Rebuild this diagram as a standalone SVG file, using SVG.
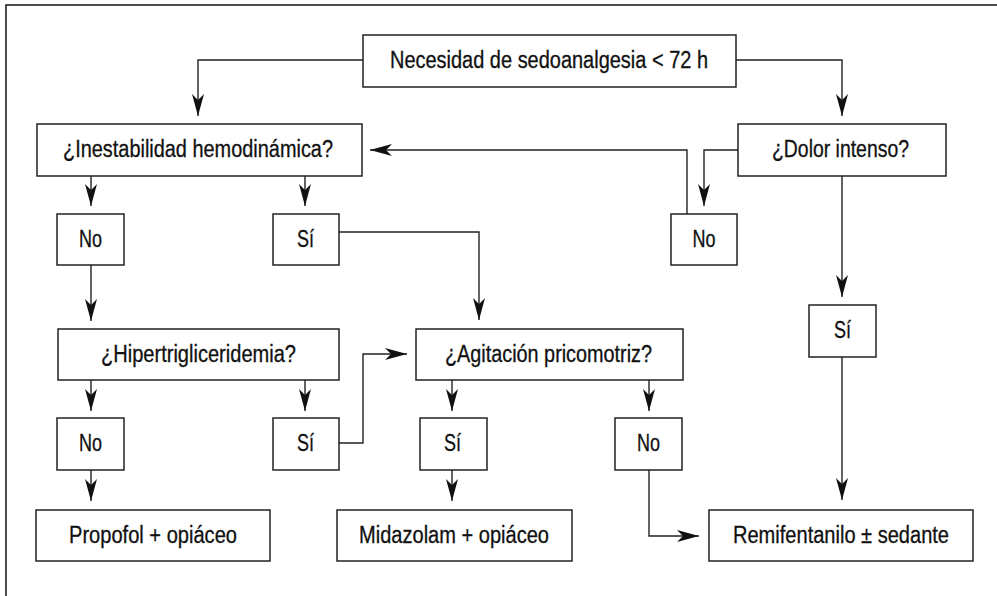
<svg xmlns="http://www.w3.org/2000/svg" width="997" height="596" viewBox="0 0 997 596">
<style>
.frame{fill:none;stroke:#222;stroke-width:1.6}
.box rect{fill:#fff;stroke:#222;stroke-width:1.5}
.box text{font-family:"Liberation Sans",Arial,sans-serif;font-size:23px;fill:#111;stroke:#111;stroke-width:0.3;text-anchor:middle}
.conn path{fill:none;stroke:#222;stroke-width:1.4;marker-end:url(#arr)}
</style>
<defs>
<marker id="arr" markerUnits="userSpaceOnUse" viewBox="0 0 22 12" markerWidth="22" markerHeight="12" refX="22" refY="6" orient="auto">
<path d="M0,0 L22,6 L0,12 L6,6 z" fill="#111"/>
</marker>
</defs>
<rect width="997" height="596" fill="#fff"/>
<rect class="frame" x="6" y="5" width="1000" height="600"/>
<g class="conn">
<path d="M363,60 H198 V116"/>
<path d="M736,60 H842 V116"/>
<path d="M687,214 V150 H370"/>
<path d="M738,150 H704 V206"/>
<path d="M842,176 V297"/>
<path d="M842,357 V500"/>
<path d="M91,176 V206"/>
<path d="M305,176 V206"/>
<path d="M339,232 H479 V320"/>
<path d="M91,265 V321"/>
<path d="M91,380 V411"/>
<path d="M305,380 V411"/>
<path d="M339,443 H363 V354 H407"/>
<path d="M452,380 V411"/>
<path d="M649,380 V411"/>
<path d="M91,470 V501"/>
<path d="M452,470 V501"/>
<path d="M649,470 V536 H699"/>
</g>
<g id="n-necesidad" class="box"><rect x="363" y="35" width="373" height="52"/><text x="549" y="67.5" textLength="318" lengthAdjust="spacingAndGlyphs">Necesidad de sedoanalgesia &lt; 72 h</text></g>
<g id="n-inestabilidad" class="box"><rect x="37" y="124" width="325" height="52"/><text x="198" y="157" textLength="270" lengthAdjust="spacingAndGlyphs">¿Inestabilidad hemodinámica?</text></g>
<g id="n-dolor" class="box"><rect x="738" y="124" width="208" height="52"/><text x="840.5" y="157" textLength="137" lengthAdjust="spacingAndGlyphs">¿Dolor intenso?</text></g>
<g id="n-no1" class="box"><rect x="57" y="214" width="67" height="51"/><text x="90.5" y="246.5" textLength="23" lengthAdjust="spacingAndGlyphs">No</text></g>
<g id="n-si1" class="box"><rect x="273" y="214" width="66" height="51"/><text x="305.5" y="246.5" textLength="17" lengthAdjust="spacingAndGlyphs">Sí</text></g>
<g id="n-no-dolor" class="box"><rect x="671" y="214" width="66" height="51"/><text x="704" y="246.5" textLength="23" lengthAdjust="spacingAndGlyphs">No</text></g>
<g id="n-si-dolor" class="box"><rect x="809" y="305" width="67" height="52"/><text x="842.5" y="337.5" textLength="17" lengthAdjust="spacingAndGlyphs">Sí</text></g>
<g id="n-hiper" class="box"><rect x="58" y="329" width="281" height="51"/><text x="198.5" y="361.5" textLength="195" lengthAdjust="spacingAndGlyphs">¿Hipertrigliceridemia?</text></g>
<g id="n-agitacion" class="box"><rect x="416" y="329" width="267" height="51"/><text x="548.5" y="361.5" textLength="207" lengthAdjust="spacingAndGlyphs">¿Agitación pricomotriz?</text></g>
<g id="n-no2" class="box"><rect x="57" y="418" width="67" height="52"/><text x="90.5" y="450.5" textLength="23" lengthAdjust="spacingAndGlyphs">No</text></g>
<g id="n-si2" class="box"><rect x="273" y="418" width="66" height="52"/><text x="305.5" y="450.5" textLength="17" lengthAdjust="spacingAndGlyphs">Sí</text></g>
<g id="n-si3" class="box"><rect x="420" y="418" width="67" height="52"/><text x="452.5" y="450.5" textLength="17" lengthAdjust="spacingAndGlyphs">Sí</text></g>
<g id="n-no3" class="box"><rect x="615" y="418" width="67" height="52"/><text x="648.5" y="450.5" textLength="23" lengthAdjust="spacingAndGlyphs">No</text></g>
<g id="n-propofol" class="box"><rect x="36" y="510" width="234" height="51"/><text x="153" y="542.5" textLength="168" lengthAdjust="spacingAndGlyphs">Propofol + opiáceo</text></g>
<g id="n-midazolam" class="box"><rect x="337" y="510" width="235" height="51"/><text x="454" y="542.5" textLength="190" lengthAdjust="spacingAndGlyphs">Midazolam + opiáceo</text></g>
<g id="n-remi" class="box"><rect x="709" y="510" width="264" height="51"/><text x="841" y="542.5" textLength="216" lengthAdjust="spacingAndGlyphs">Remifentanilo ± sedante</text></g>
</svg>
